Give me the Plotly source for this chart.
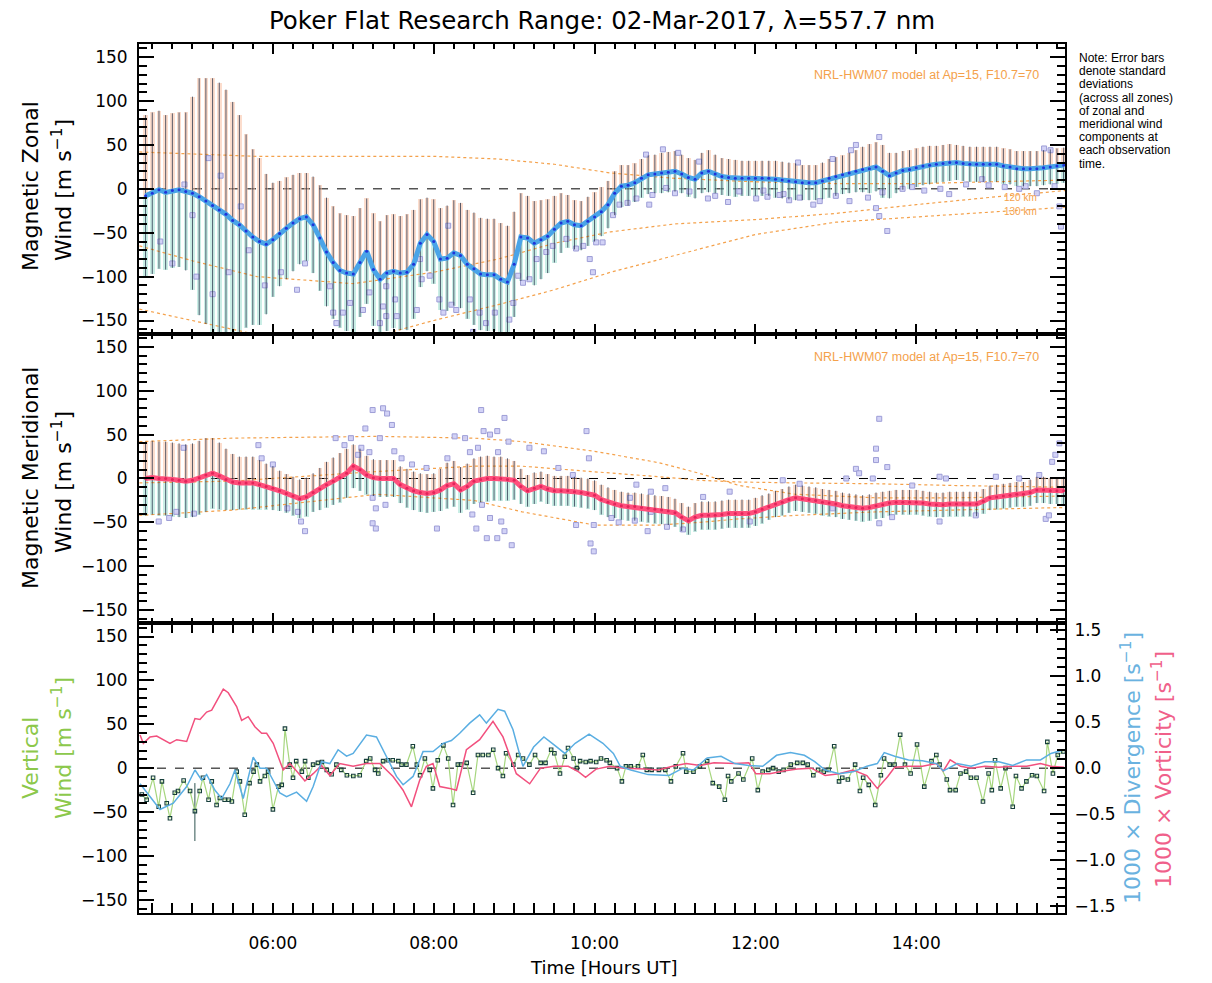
import pandas as pd
import plotly.graph_objects as go

DAY = pd.Timestamp("2017-03-02")

# ---------------- observation times (minutes after 00:00 UT) ----------------
T_MIN = [
    265, 270, 275, 280, 285, 290, 295,
    300, 305, 310, 315, 320, 325, 330, 335, 340, 345, 350, 355,
    360, 365, 370, 375, 380, 385, 390, 395, 400, 405, 410, 415,
    420, 425, 430, 435, 440, 445, 450, 455, 460, 465, 470, 475,
    480, 485, 490, 495, 500, 505, 510, 515, 520, 525, 530, 535,
    540, 545, 550, 555, 560, 565, 570, 575, 580, 585, 590, 595,
    600, 605, 610, 615, 620, 625, 630, 635, 640, 645, 650, 655,
    660, 665, 670, 675, 680, 685, 690, 695, 700, 705, 710, 715,
    720, 725, 730, 735, 740, 745, 750, 755, 760, 765, 770, 775,
    780, 785, 790, 795, 800, 805, 810, 815, 820, 825, 830, 835,
    840, 845, 850, 855, 860, 865, 870, 875, 880, 885, 890, 895,
    900, 905, 910, 915, 920, 925, 930, 935, 940, 945, 950,
]

# ---------------- magnetic zonal wind (mean over zones, std dev) ----------------
ZONAL_MEAN = [
    -8, -5, -1, -4, -2, -1, -3,
    -5, -9, -14, -19, -24, -29, -36, -41, -48, -55, -60, -63,
    -58, -51, -45, -39, -34, -32, -41, -56, -72, -84, -93, -96,
    -97, -84, -71, -92, -103, -96, -94, -96, -95, -86, -62, -52,
    -60, -80, -79, -73, -76, -86, -91, -97, -98, -98, -103, -106,
    -86, -55, -56, -62, -58, -54, -46, -39, -37, -41, -42, -37,
    -32, -26, -18, -5, 3, 4, 7, 12, 16, 17, 18, 19,
    20, 17, 13, 11, 18, 20, 17, 14, 13, 12, 12, 12,
    12, 12, 12, 11, 10, 9, 8, 7, 7, 7, 9, 12,
    14, 16, 18, 20, 22, 23, 25, 20, 15, 18, 21, 22,
    24, 26, 27, 28, 29, 30, 30, 29, 28, 28, 28, 28,
    28, 26, 25, 23, 23, 23, 23, 24, 25, 26, 27,
]
ZONAL_STD = [
    92, 92, 90, 88, 88, 88, 90,
    110, 135, 140, 145, 145, 142, 135, 125, 110, 100, 95, 80,
    65, 60, 58, 55, 52, 50, 55, 60, 62, 64, 65, 66,
    66, 62, 60, 64, 66, 66, 65, 65, 66, 62, 50, 42,
    48, 58, 60, 60, 60, 62, 64, 64, 64, 64, 64, 64,
    60, 50, 48, 48, 45, 42, 38, 34, 30, 28, 28, 28,
    28, 28, 27, 25, 24, 23, 22, 22, 22, 22, 23, 23,
    23, 22, 22, 22, 23, 24, 22, 21, 21, 21, 20, 20,
    20, 20, 20, 21, 21, 21, 21, 20, 20, 20, 21, 22,
    22, 22, 23, 24, 26, 28, 28, 30, 26, 23, 22, 22,
    22, 22, 22, 21, 21, 21, 20, 20, 20, 20, 20, 20,
    20, 20, 20, 20, 20, 20, 20, 20, 20, 20, 20,
]

# ---------------- magnetic meridional wind ----------------
MERID_MEAN = [
    0, 1, 0, 0, -1, -2, -3,
    -2, 1, 4, 6, 3, -1, -4, -5, -5, -5, -7, -9,
    -11, -14, -17, -20, -23, -21, -16, -12, -7, -3, 1, 6,
    14, 10, 4, 1, 0, 0, 0, -7, -11, -14, -16, -17,
    -16, -13, -8, -6, -13, -9, -3, -1, 0, 0, 0, -1,
    -2, -9, -14, -11, -9, -12, -14, -14, -14, -15, -16, -17,
    -19, -24, -27, -29, -31, -32, -32, -33, -34, -35, -36, -37,
    -39, -44, -48, -44, -42, -42, -42, -41, -40, -40, -40, -40,
    -38, -35, -32, -29, -27, -24, -22, -23, -24, -25, -27, -28,
    -29, -31, -32, -33, -34, -33, -31, -30, -28, -27, -27, -27,
    -27, -28, -29, -30, -30, -29, -29, -29, -29, -29, -26, -22,
    -21, -20, -19, -18, -18, -16, -13, -13, -14, -14, -14,
]
MERID_STD = [
    42, 42, 42, 42, 42, 42, 42,
    42, 42, 42, 40, 38, 35, 32, 30, 30, 30, 28, 26,
    25, 23, 22, 22, 22, 22, 22, 24, 26, 27, 28, 28,
    25, 24, 22, 21, 21, 21, 21, 21, 22, 22, 22, 22,
    22, 24, 26, 26, 26, 26, 26, 26, 26, 25, 25, 24,
    22, 20, 18, 18, 17, 17, 17, 17, 17, 17, 17, 17,
    17, 17, 17, 16, 16, 16, 16, 16, 16, 16, 16, 16,
    16, 16, 16, 16, 16, 16, 16, 16, 16, 16, 16, 16,
    16, 16, 15, 15, 15, 15, 15, 15, 15, 15, 15, 15,
    15, 15, 15, 15, 15, 15, 15, 15, 14, 14, 14, 14,
    14, 14, 14, 14, 14, 14, 14, 14, 14, 14, 14, 14,
    14, 14, 14, 14, 14, 15, 15, 15, 15, 15, 16,
]

# ---------------- individual-zone outliers (hours UT, m/s) ----------------
ZO_T = [4.6, 4.75, 5.05, 5.25, 5.45, 5.2, 5.35, 5.0, 4.9, 5.6, 5.7, 5.9, 6.1, 6.3, 6.4,
        6.71, 6.75, 6.87, 6.96, 6.79, 7.2, 7.37, 7.41, 7.33, 7.12,
        7.41, 7.52, 7.54, 7.83, 7.85, 7.79, 7.95, 8.07, 8.12, 8.18, 8.22, 8.28, 8.45, 8.49,
        8.57, 8.65, 8.76, 8.94, 8.99, 9.05, 9.11, 9.19, 9.28, 9.4, 9.48, 9.65, 9.77, 9.86,
        9.94, 9.98, 10.02, 10.1, 10.23, 10.31, 10.41, 10.52, 10.68, 10.64, 10.72, 10.85,
        10.89, 11.04, 11.18, 11.3, 11.41, 11.66, 11.8, 12.01, 12.15, 12.3, 12.42, 12.53,
        12.96, 13.19, 13.25, 13.54, 13.5, 13.54, 13.64, 13.58, 13.17, 12.8, 12.55, 12.35,
        12.72, 13.83, 13.95, 14.41, 14.62, 14.82, 15.28, 15.36, 15.59, 15.67, 15.78, 15.8, 15.72,
        11.0, 11.5, 12.1, 14.1, 14.3, 14.9, 15.1, 15.5, 13.0, 13.4]
ZO_V = [-60, -85, -100, -120, -95, 35, 15, -30, 5, -20, -70, -110, -95, -115, -85,
        -111, -141, -141, -130, -153, -118, -134, -145, -153, -138,
        -111, -126, -145, -80, -103, -138, -99, -126, -141, -42, -132, -138, -126, -163,
        -141, -153, -141, -149, -130, -99, -107, -103, -80, -72, -65, -57, -68, -65,
        -80, -95, -61, -61, -30, -18, -16, -11, -18, 39, -7, 45,
        1, 41, -3, 31, -11, -15, -3, -11, -9, -7, -13, 30,
        34, 44, 50, 59, -22, -31, -48, -4, -14, -14, -10, -6,
        -18, 0, 2, -6, 5, 11, 0, 3, 46, 44, -20, -43, 3,
        -5, -8, -2, -2, 0, 4, 2, -5, -8, -10]

MO_T = [4.58, 4.71, 4.89, 4.8, 5.02, 5.82, 5.86, 6.0, 6.18, 6.31,
        6.4, 6.35, 6.78, 6.89, 6.97, 7.06, 7.15, 7.24, 7.37, 7.42,
        7.48, 7.33, 7.24, 7.28, 7.24, 7.28, 7.51, 7.6, 7.73, 7.91,
        8.04, 8.17, 8.26, 8.39, 8.59, 8.62, 8.7, 8.79, 8.88, 8.93,
        8.53, 8.66, 8.79, 8.88, 8.97, 8.48, 8.7, 8.84, 9.19, 9.37,
        9.55, 9.73, 9.9, 9.93, 9.95, 9.99, 9.77, 9.99, 10.21, 10.44,
        10.52, 10.7, 10.88, 10.66, 10.7,
        11.35, 11.68, 11.93, 12.34, 12.55, 12.96, 13.13, 13.25, 13.29, 13.46,
        13.5, 13.5, 13.64, 13.54, 13.54, 13.7, 13.95, 14.29, 14.37, 14.29,
        14.74, 14.99, 15.28, 15.53, 15.61, 15.69, 15.73, 15.78, 15.65,
        7.1, 7.2, 8.45, 8.55, 8.8, 7.4, 8.6, 10.3, 10.5, 10.9, 11.1]
MO_V = [-49, -45, 35, -38, -40, 38, 23, 16, -34, -38,
        -60, -49, 46, 38, 46, 27, 57, 78, 80, 74,
        61, 46, -22, -34, -51, -57, 31, 23, 16, 12,
        -57, 23, 48, 46, 78, 54, 50, 54, 69, 42,
        -57, -68, -68, -60, -76, -41, -45, -49, 35, 31,
        12, 4, 54, 23, -74, -83, -53, -53, -45, -22,
        -7, -15, -11, -60, -38,
        -21, -15, -49, -2, -6, -34, 0, 11, 6, 0,
        34, 21, 13, 68, -51, -44, -8, 2, 0, -49,
        -42, 2, 0, 4, -46, 19, 27, 40, -42,
        35, 30, 30, 35, 30, -30, -30, -50, -48, -55, -58]

# ---------------- NRL-HWM07 model curves ----------------
ZM_T = [4.34, 5.0, 5.8, 7.0, 8.0, 8.8, 9.5, 10.2, 11.0, 12.0, 13.0, 14.0, 15.0, 15.85]
ZM_110 = [42, 40, 37, 37, 37, 34, 28, 18, 12, 8, 6, 6, 8, 10]
ZM_120 = [-65, -82, -100, -108, -95, -80, -62, -49, -40, -35, -28, -18, -9, -2]
ZM_130 = [-137, -150, -166, -175, -150, -132, -115, -95, -76, -52, -38, -32, -26, -21]

MM_T = [4.34, 5.5, 7.3, 8.5, 9.1, 10.0, 10.8, 11.3, 11.8, 12.5, 13.5, 14.5, 15.85]
MM_110 = [42, 46, 48, 46, 42, 31, 18, 6, -8, -18, -22, -22, -20]
MM_120 = [-5, -3, 8, 14, 14, 8, 2, -2, -4, -5, -6, -8, -10]
MM_130 = [-42, -36, -18, -25, -38, -53, -53, -50, -46, -42, -38, -36, -33]

# ---------------- vertical wind ----------------
VW_T = [4.37, 4.43, 4.51, 4.58, 4.62, 4.68, 4.72, 4.78, 4.82, 4.89,
        4.97, 5.03, 5.09, 5.13, 5.20, 5.24, 5.30, 5.34, 5.40, 5.45,
        5.49, 5.55, 5.59, 5.65, 5.71, 5.76, 5.80, 5.84, 5.90, 5.94,
        6.00, 6.07, 6.11, 6.15, 6.21, 6.25, 6.29, 6.36, 6.40, 6.44,
        6.50, 6.56, 6.61, 6.67, 6.73, 6.79, 6.85, 6.92, 7.00, 7.08,
        7.16, 7.21, 7.27, 7.31, 7.37, 7.43, 7.49, 7.56, 7.60, 7.66,
        7.74, 7.79, 7.83, 7.89, 7.95, 7.99, 8.05, 8.12, 8.18, 8.24,
        8.30, 8.34, 8.41, 8.49, 8.55, 8.61, 8.68, 8.74, 8.80, 8.86,
        8.90, 8.99, 9.05, 9.11, 9.19, 9.26,
        9.33, 9.39, 9.46, 9.50, 9.57, 9.63, 9.67, 9.74, 9.78, 9.82,
        9.89, 9.95, 10.02, 10.08, 10.15, 10.19, 10.28, 10.34, 10.39, 10.45,
        10.54, 10.60, 10.65, 10.71, 10.80, 10.88, 10.95, 11.01, 11.10, 11.14,
        11.23, 11.31, 11.40, 11.47, 11.55, 11.62, 11.66, 11.70, 11.79, 11.85,
        11.96, 12.03, 12.09, 12.16, 12.22, 12.29, 12.35, 12.44, 12.52, 12.59,
        12.65, 12.72, 12.78, 12.85, 12.91, 12.98, 13.04, 13.08, 13.15, 13.24,
        13.30, 13.34, 13.41, 13.49, 13.56, 13.60, 13.67, 13.73, 13.80, 13.86,
        13.93, 14.01, 14.10, 14.19, 14.25, 14.29, 14.38, 14.42, 14.49, 14.55,
        14.62, 14.68, 14.75, 14.83, 14.90, 14.94, 14.98, 15.05, 15.11, 15.20,
        15.24, 15.31, 15.37, 15.44, 15.50, 15.59, 15.63, 15.70, 15.76, 15.83]
VW_V = [-30, -36, -11, -44, -15, -40, -57, -28, -26, -14,
        -26, -49, -26, -11, -36, -15, -42, -34, -36, -36,
        -38, -4, -15, -53, -17, -4, 4, -15, -9, -4,
        -47, -21, -19, 45, 4, -11, 8, -4, 8, -11,
        4, 6, 7, -2, -7, 4, -2, -8, -9, -8,
        8, 11, -2, -6, 8, 9, 9, 8, 4, 4,
        25, 4, -8, 11, -2, -23, 9, 26, 11, -42,
        4, 4, 6, -28, 15, 15, 15, 21, 0, -9,
        17, 4, 15, 11, 4, 15,
        6, 6, 21, 17, -6, 13, 23, 11, 0, 8,
        7, 8, 7, 11, 9, 6, 0, -15, 2, 2,
        2, 15, -2, -2, -2, -2, -15, 2, 17, -4,
        -4, 2, 8, -17, -21, -36, -9, -15, -6, -13,
        11, -25, -4, -2, 0, -4, -2, 4, 6, 6,
        4, -8, -2, -4, -2, 25, -15, -11, -13, 4,
        -26, -11, -19, -42, -8, 11, 4, 4, 38, 4,
        -6, 27, -21, 8, 15, 4, -13, -25, -25, -6,
        -4, -11, -11, -38, -6, -25, 9, -23, 0, -44,
        -9, -23, -15, -8, -9, -26, 30, -6, 15, 19]
VW_ERR_T = [5.03]
VW_ERR_LO = [-83]
VW_ERR_HI = [-17]

# ---------------- 1000 x divergence / vorticity (s^-1) ----------------
DIV_T = [4.348, 4.472, 4.596, 4.761, 4.928, 5.031, 5.114, 5.176, 5.280, 5.363,
         5.466, 5.528, 5.631, 5.755, 5.839, 5.922, 6.004, 6.087, 6.170, 6.294,
         6.419, 6.501, 6.605, 6.708, 6.811, 6.916, 6.998, 7.164, 7.288, 7.412,
         7.537, 7.619, 7.743, 7.867, 7.991, 8.116, 8.220, 8.323, 8.447, 8.571,
         8.655, 8.799, 8.882, 8.985, 9.109, 9.242, 9.370, 9.501, 9.630, 9.759,
         9.932, 10.104, 10.234, 10.320, 10.450, 10.666, 10.925, 11.098, 11.227, 11.400,
         11.573, 11.745, 11.918, 12.091, 12.263, 12.436, 12.609, 12.738, 12.868, 13.041,
         13.214, 13.386, 13.516, 13.602, 13.732, 13.904, 14.077, 14.250, 14.337, 14.509,
         14.682, 14.855, 15.027, 15.200, 15.373, 15.545, 15.675, 15.839]
DIV_V = [-0.17, -0.31, -0.45, -0.38, -0.20, -0.02, -0.13, -0.07, -0.24, -0.33,
         -0.17, -0.02, -0.33, 0.12, 0.00, 0.00, -0.13, -0.27, -0.31, -0.26,
         -0.36, -0.20, 0.07, 0.05, 0.20, 0.13, 0.16, 0.36, 0.34, 0.13,
         -0.09, -0.18, -0.09, 0.18, 0.18, 0.27, 0.30, 0.38, 0.49, 0.58,
         0.49, 0.64, 0.62, 0.42, 0.02, 0.23, 0.34, 0.25, 0.16, 0.27,
         0.37, 0.27, 0.16, 0.02, -0.02, -0.07, -0.08, 0.00, -0.02, 0.11,
         0.13, 0.05, 0.03, 0.02, 0.14, 0.17, 0.14, 0.07, -0.02, -0.06,
         -0.04, 0.02, 0.05, 0.17, 0.13, 0.09, 0.08, 0.05, -0.03, 0.05,
         0.02, 0.07, 0.07, 0.03, 0.09, 0.09, 0.16, 0.20]
VOR_T = [4.348, 4.389, 4.472, 4.555, 4.720, 4.804, 4.928, 5.031, 5.093, 5.176,
         5.239, 5.383, 5.445, 5.549, 5.611, 5.693, 5.776, 5.860, 5.922, 6.004,
         6.128, 6.211, 6.294, 6.398, 6.501, 6.605, 6.708, 6.832, 6.998, 7.164,
         7.329, 7.494, 7.619, 7.723, 7.826, 7.909, 7.991, 8.075, 8.199, 8.282,
         8.406, 8.571, 8.737, 8.861, 9.027, 9.193, 9.328, 9.501, 9.673, 9.802,
         9.888, 10.019, 10.191, 10.364, 10.622, 10.795, 10.968, 11.140, 11.313, 11.486,
         11.745, 11.918, 12.005, 12.178, 12.350, 12.523, 12.696, 12.868, 13.041, 13.214,
         13.386, 13.516, 13.646, 13.732, 13.904, 14.077, 14.250, 14.337, 14.422, 14.552,
         14.682, 14.855, 15.027, 15.200, 15.373, 15.545, 15.675, 15.839]
VOR_V = [0.36, 0.27, 0.34, 0.35, 0.27, 0.31, 0.29, 0.54, 0.53, 0.61,
         0.63, 0.86, 0.82, 0.67, 0.52, 0.56, 0.45, 0.38, 0.38, 0.27,
         -0.02, 0.05, -0.03, -0.14, -0.06, 0.03, -0.08, 0.05, 0.02, 0.05,
         0.05, -0.09, -0.24, -0.42, -0.13, 0.02, 0.05, -0.20, -0.22, -0.24,
         0.20, 0.31, 0.51, 0.34, -0.06, -0.17, 0.00, 0.02, 0.02, -0.04,
         -0.10, -0.01, 0.02, 0.00, -0.01, -0.02, 0.02, 0.05, 0.03, 0.06,
         0.05, 0.06, -0.06, -0.06, -0.03, -0.01, 0.00, -0.08, -0.06, -0.02,
         -0.08, -0.22, -0.09, 0.01, 0.02, 0.02, 0.05, -0.03, 0.09, 0.02,
         0.00, 0.02, 0.01, 0.02, 0.02, 0.05, 0.02, 0.01]

X_RANGE_H = [4.335, 15.85]
MAJOR_MS = 2 * 3600 * 1000
MINOR_MS = 15 * 60 * 1000


def at_min(mins):
    return [DAY + pd.Timedelta(minutes=m) for m in mins]


def at_hr(hours):
    return [DAY + pd.Timedelta(hours=h) for h in hours]


T5 = at_min(T_MIN)
FONT = "DejaVu Sans"
NOTE_FONT = "Liberation Sans"
MODEL_COL = "#f4a14b"

fig = go.Figure()


def add_wind_panel(xa, ya, mean, std, line_col, dot_col, out_t, out_v, mt, models):
    for vals in models:
        fig.add_trace(go.Scatter(x=at_hr(mt), y=vals, mode="lines", xaxis=xa, yaxis=ya,
                                 line=dict(color=MODEL_COL, width=1.2, dash="dot"),
                                 showlegend=False, hoverinfo="skip"))
    fig.add_trace(go.Bar(x=T5, y=std, base=mean, width=3.4 * 60000, xaxis=xa, yaxis=ya,
                         marker=dict(color="rgba(250,188,156,0.5)", line_width=0),
                         showlegend=False, hoverinfo="skip"))
    fig.add_trace(go.Bar(x=T5, y=[-s for s in std], base=mean, width=3.4 * 60000,
                         xaxis=xa, yaxis=ya,
                         marker=dict(color="rgba(150,222,206,0.5)", line_width=0),
                         showlegend=False, hoverinfo="skip"))
    fig.add_trace(go.Scatter(x=at_hr(out_t), y=out_v, mode="markers", xaxis=xa, yaxis=ya,
                             marker=dict(symbol="square", size=5, color="rgba(205,205,245,0.9)",
                                         line=dict(color="#9d9dd6", width=1)),
                             showlegend=False, hoverinfo="skip"))
    fig.add_trace(go.Scatter(x=T5, y=mean, mode="markers", xaxis=xa, yaxis=ya,
                             marker=dict(size=1, color="rgba(0,0,0,0)"),
                             error_y=dict(type="data", array=std, visible=True,
                                          thickness=1, width=0, color="rgba(35,45,70,0.75)"),
                             showlegend=False, hoverinfo="skip"))
    fig.add_trace(go.Scatter(x=T5, y=mean, mode="lines", xaxis=xa, yaxis=ya,
                             line=dict(color=line_col, width=5),
                             showlegend=False, hoverinfo="skip"))
    fig.add_trace(go.Scatter(x=T5, y=mean, mode="markers", xaxis=xa, yaxis=ya,
                             marker=dict(size=3, color=dot_col),
                             showlegend=False, hoverinfo="skip"))


add_wind_panel("x", "y", ZONAL_MEAN, ZONAL_STD, "#4aa4e8", "#1f33d8",
               ZO_T, ZO_V, ZM_T, [ZM_110, ZM_120, ZM_130])
add_wind_panel("x2", "y2", MERID_MEAN, MERID_STD, "#ff4f7c", "#e2245a",
               MO_T, MO_V, MM_T, [MM_110, MM_120, MM_130])

# bottom panel
fig.add_trace(go.Scatter(x=at_hr(VOR_T), y=VOR_V, mode="lines", xaxis="x3", yaxis="y4",
                         line=dict(color="#f2507e", width=1.5), showlegend=False, hoverinfo="skip"))
fig.add_trace(go.Scatter(x=at_hr(DIV_T), y=DIV_V, mode="lines", xaxis="x3", yaxis="y4",
                         line=dict(color="#5aaee2", width=1.5), showlegend=False, hoverinfo="skip"))
for t, lo, hi in zip(VW_ERR_T, VW_ERR_LO, VW_ERR_HI):
    fig.add_trace(go.Scatter(x=at_hr([t, t]), y=[lo, hi], mode="lines", xaxis="x3", yaxis="y3",
                             line=dict(color="#2f5450", width=1), showlegend=False, hoverinfo="skip"))
fig.add_trace(go.Scatter(x=at_hr(VW_T), y=VW_V, mode="lines+markers", xaxis="x3", yaxis="y3",
                         line=dict(color="#a6d67e", width=1.2),
                         marker=dict(symbol="square-open", size=3.5, color="#173f3b",
                                     line=dict(width=1.1)),
                         showlegend=False, hoverinfo="skip"))

x_range = [str(d) for d in at_hr(X_RANGE_H)]
x_common = dict(type="date", range=x_range, domain=[0, 1], tick0="2017-03-02 00:00",
                dtick=MAJOR_MS, tickformat="%H:%M", ticks="inside", ticklen=10, tickwidth=2,
                tickcolor="black", showline=True, linecolor="black", linewidth=2,
                mirror="allticks", showgrid=False, zeroline=False,
                minor=dict(dtick=MINOR_MS, ticklen=5, tickwidth=1.5, tickcolor="black",
                           ticks="inside", showgrid=False),
                tickfont=dict(family=FONT, size=17, color="black"))
y_common = dict(range=[-165, 165], tick0=0, dtick=50, ticks="inside", ticklen=15, tickwidth=2,
                tickcolor="black", showline=True, linecolor="black", linewidth=2,
                mirror="allticks", showgrid=False, zeroline=False,
                minor=dict(dtick=10, ticklen=8, tickwidth=1.5, tickcolor="black",
                           ticks="inside", showgrid=False),
                tickfont=dict(family=FONT, size=17, color="black"), ticklabelstandoff=6)

fig.update_layout(
    width=1212, height=983,
    margin=dict(l=139, r=147, t=44, b=70),
    paper_bgcolor="white", plot_bgcolor="white",
    barmode="overlay", bargap=0,
    font=dict(family=FONT, color="black"),
    showlegend=False,
    title=dict(text="Poker Flat Research Range: 02-Mar-2017, λ=557.7 nm",
               x=0.4967, xanchor="center", y=1 - 20 / 983, yanchor="middle",
               font=dict(family=FONT, size=24.5, color="black")),
    xaxis=dict(x_common, anchor="y", showticklabels=False),
    xaxis2=dict(x_common, anchor="y2", showticklabels=False),
    xaxis3=dict(x_common, anchor="y3", showticklabels=True, ticklabelstandoff=14),
    yaxis=dict(y_common, domain=[2 / 3, 1], anchor="x"),
    yaxis2=dict(y_common, domain=[1 / 3, 2 / 3], anchor="x2"),
    yaxis3=dict(y_common, domain=[0, 1 / 3], anchor="x3", mirror=True),
    yaxis4=dict(range=[-1.575, 1.575], overlaying="y3", side="right", anchor="x3",
                tick0=0, dtick=0.5, tickformat=".1f", ticks="inside", ticklen=15, tickwidth=2,
                tickcolor="black", showline=True, linecolor="black", linewidth=2,
                showgrid=False, zeroline=False,
                minor=dict(dtick=0.1, ticklen=8, tickwidth=1.5, tickcolor="black",
                           ticks="inside", showgrid=False),
                tickfont=dict(family=FONT, size=17, color="black"), ticklabelstandoff=4),
)

# dashed zero lines
for xr, yr in (("x", "y"), ("x2", "y2"), ("x3", "y3")):
    fig.add_shape(type="line", xref=f"{xr} domain", x0=0, x1=1, yref=yr, y0=0, y1=0,
                  line=dict(color="black", width=1, dash="dash"), layer="below")


def px_x(px):
    return (px - 139) / 926


def px_y(py):
    return (913 - py) / 869


ann = []
sup = "Wind [m s<sup>−1</sup>]"
for text, px, py, col in [("Magnetic Zonal", 30, 186, "black"), (sup, 62, 190, "black"),
                          ("Magnetic Meridional", 30, 478, "black"), (sup, 62, 482, "black"),
                          ("Vertical", 30, 758, "#8cc84b"), (sup, 62, 748, "#8cc84b"),
                          ("1000 × Divergence [s<sup>−1</sup>]", 1131, 768, "#6ab2e0"),
                          ("1000 × Vorticity [s<sup>−1</sup>]", 1162, 770, "#f0608a")]:
    ann.append(dict(text=text, x=px_x(px), y=px_y(py), xref="paper", yref="paper",
                    xanchor="center", yanchor="middle", textangle=-90, showarrow=False,
                    font=dict(family=FONT, size=22, color=col)))

NOTE_LINES = ["Note: Error bars", "denote standard", "deviations", "(across all zones)",
              "of zonal and", "meridional wind", "components at", "each observation", "time."]
for i, line in enumerate(NOTE_LINES):
    ann.append(dict(text=line, x=px_x(1077), y=px_y(58 + 13.2 * i), xref="paper", yref="paper",
                    xanchor="left", yanchor="middle", showarrow=False,
                    font=dict(family=NOTE_FONT, size=12, color="black")))

for py in (75, 357):
    ann.append(dict(text="NRL-HWM07 model at Ap=15, F10.7=70", x=px_x(1041), y=px_y(py),
                    xref="paper", yref="paper", xanchor="right", yanchor="middle",
                    showarrow=False, font=dict(family=NOTE_FONT, size=12.5, color=MODEL_COL)))
for text, py in (("120 km", 198), ("130 km", 212)):
    ann.append(dict(text=text, x=px_x(1020), y=px_y(py), xref="paper", yref="paper",
                    xanchor="center", yanchor="middle", showarrow=False,
                    font=dict(family=NOTE_FONT, size=10, color=MODEL_COL)))

ann.append(dict(text="Time [Hours UT]", x=px_x(603), y=px_y(968), xref="paper", yref="paper",
                xanchor="center", yanchor="middle", showarrow=False,
                font=dict(family=FONT, size=18, color="black")))

fig.update_layout(annotations=ann)

fig.write_html("out.html", config={"displayModeBar": False},
               post_script="document.body.style.margin='0';document.body.style.padding='0';")
